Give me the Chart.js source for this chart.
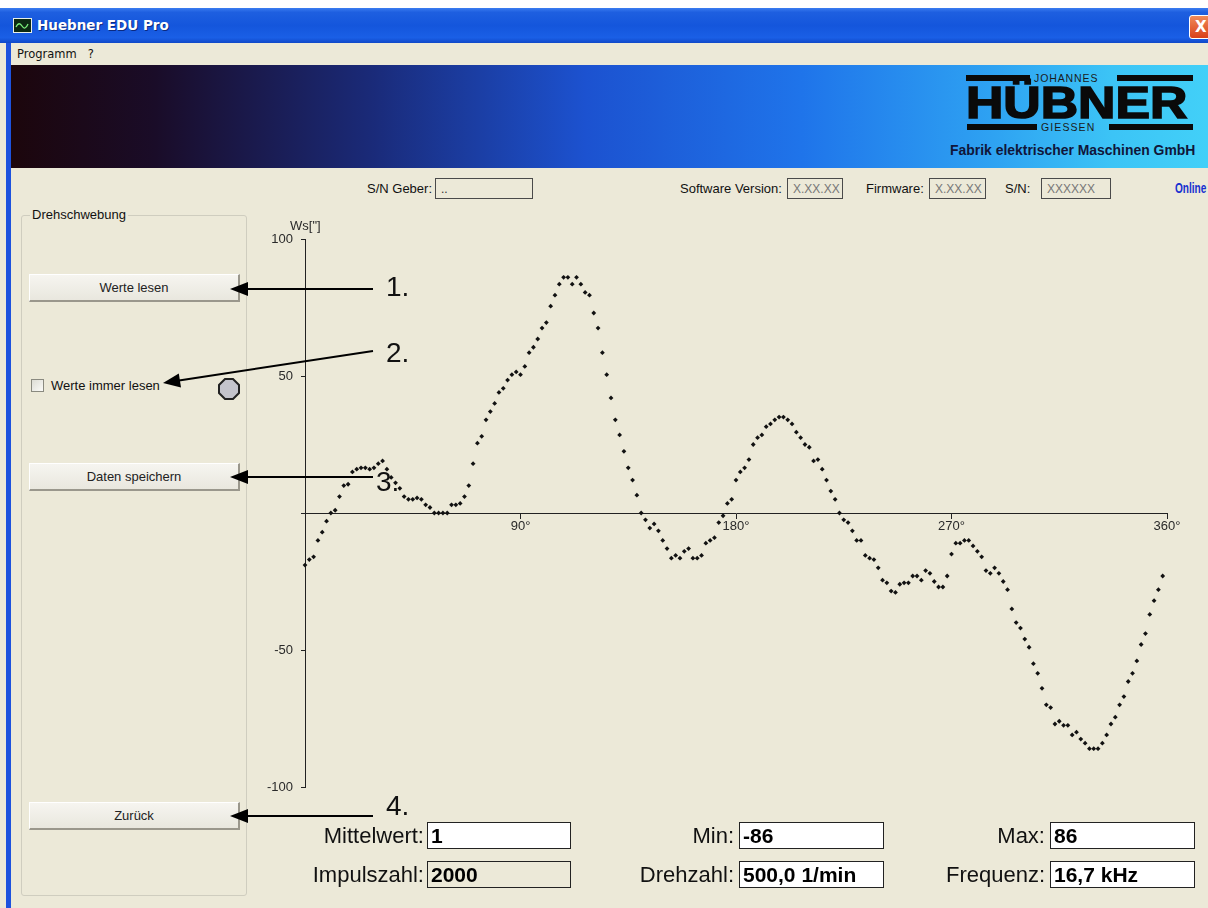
<!DOCTYPE html>
<html>
<head>
<meta charset="utf-8">
<title>Huebner EDU Pro</title>
<script src="https://cdn.jsdelivr.net/npm/chart.js@4.4.1/dist/chart.umd.min.js"></script>
<style>
  body { margin: 0; width: 1208px; height: 908px; position: relative; overflow: hidden;
         background: #ece9d8; font-family: "Liberation Sans", Arial, sans-serif; color: #111; }
  .abs { position: absolute; }
  .lbl { position: absolute; font-size: 13px; white-space: nowrap; }
  .snbox { position: absolute; height: 21px; border: 1px solid #4a4a4a; background: #ece9d8;
           font-size: 12px; line-height: 21px; color: #777; padding-left: 5px; box-sizing: border-box; }
  .btn { position: absolute; left: 29px; width: 211px; height: 28px; box-sizing: border-box;
         border-top: 1px solid #fff; border-left: 1px solid #fff;
         border-right: 2px solid #9a978c; border-bottom: 2px solid #9a978c;
         background: linear-gradient(to bottom, #f6f5f0, #e9e7de);
         font-size: 13px; text-align: center; line-height: 25px; color: #222; }
  .num { position: absolute; font-size: 28px; line-height: 28px; color: #111; }
  .flbl { position: absolute; font-size: 22px; line-height: 27px; text-align: right; width: 160px; color: #111; }
  .fbox { position: absolute; height: 27px; border: 1px solid #222; background: #fff; box-sizing: border-box;
          font-size: 21px; font-weight: bold; line-height: 25px; padding-left: 3px; color: #000; }
  .bar { position: absolute; background: #0a0a0a; height: 6px; }
</style>
</head>
<body>
<script>
// Drehschwebung Ws["] over one revolution, 200 samples (0° .. 358.2°)
const sampleStep = 1.8;
const wsValues = [
  -19, -17, -16, -10, -7, -3, 0, 1, 6, 10,
  10.5, 15, 16, 16.5, 16.5, 16, 16.5, 18, 19, 16,
  13, 11, 9, 6, 5, 5, 5.5, 5, 3, 2,
  0, 0, 0, 0, 3, 3, 3.5, 6, 10, 18,
  25.5, 28, 34, 37, 40, 44, 45.5, 48.5, 50.5, 51.5,
  50.5, 53.5, 58.5, 60.5, 63.5, 67.5, 69.5, 75.5, 79.5, 83.5,
  86, 86, 83.5, 86, 83.5, 80.5, 79.5, 73, 67.5, 58.5,
  50.5, 42, 34, 28.5, 22.5, 16.5, 12, 6.5, 0, -2.5,
  -5.5, -4, -6.5, -10, -13, -16.5, -15.5, -16.5, -14, -13,
  -16.5, -16.5, -15.5, -11, -10, -9, -3.5, -1, 3.5, 5,
  12, 15, 16.5, 19.5, 25, 27.5, 28.5, 31.5, 32.5, 34,
  35, 35, 34, 32.5, 29.5, 27.5, 25, 24, 19, 19.5,
  16, 12, 8, 5, 0, -2.5, -3.5, -6.5, -10, -10,
  -15.5, -16.5, -17, -20, -24.5, -25.5, -28.5, -29, -26, -25.5,
  -25.5, -23, -23, -24.5, -21, -22, -25, -27, -27, -23,
  -15, -11, -11, -10, -10, -12, -14, -16, -21, -22,
  -20, -22, -25, -28, -35, -40, -42, -46, -49, -55,
  -58.5, -64, -70, -71, -77, -76, -77.5, -77.5, -81, -80,
  -82.5, -84, -86, -86, -86, -84, -81, -77, -74.5, -70,
  -67, -61.5, -58.5, -54, -48, -44, -37, -32, -28, -23
];
const xTicks = [90, 180, 270, 360];
const xTickLabels = ['90°', '180°', '270°', '360°'];
const yTicks = [100, 50, 0, -50, -100];
const yTickLabels = ['100', '50', '', '-50', '-100'];
</script>

<!-- window chrome -->
<div class="abs" style="left:0;top:0;width:1208px;height:8px;background:#fff"></div>
<div class="abs" style="left:0;top:8px;width:1208px;height:35px;
     background:linear-gradient(to bottom,#3b7cf0 0%,#1e5fe0 12%,#1456dc 50%,#1a5fe6 85%,#0f48c8 100%)"></div>
<svg class="abs" style="left:13px;top:18px" width="19" height="15">
  <rect x="0.5" y="0.5" width="18" height="14" fill="#0c2a12" stroke="#e8f0e8"/>
  <path d="M3 9 Q6 3 9 8 T15 6" stroke="#7cf07c" stroke-width="1.3" fill="none"/>
</svg>
<div class="abs" style="left:37px;top:8px;height:35px;line-height:35px;color:#fff;font-family:'DejaVu Sans';font-weight:bold;font-size:13.5px;text-shadow:1px 1px #0b2a80">Huebner EDU Pro</div>
<div class="abs" style="left:1189px;top:15px;width:24px;height:22px;border-radius:3px;border:1px solid #fff;background:linear-gradient(#f08a5a,#d9401a);color:#fff;font-family:'DejaVu Sans';font-weight:bold;font-size:15px;line-height:22px;text-indent:5px">X</div>
<div class="abs" style="left:0;top:43px;width:1208px;height:22px;background:#ece9d8"></div>
<div class="abs" style="left:17px;top:43px;height:22px;line-height:22px;font-family:'DejaVu Sans';font-size:11.5px;color:#111">Programm&nbsp;&nbsp;&nbsp;?</div>
<div class="abs" style="left:6px;top:43px;width:5px;height:865px;background:#1d52de"></div>

<!-- banner -->
<div class="abs" style="left:11px;top:65px;width:1197px;height:103px;
     background:linear-gradient(to right,#1c060c 0%,#1a0c28 12%,#1a2a78 30%,#1c52d0 48%,#1f74ea 66%,#2ea2f2 82%,#3cc4f6 92%,#42d0f8 100%)"></div>
<div class="bar" style="left:966px;top:75px;width:64px"></div>
<div class="abs" style="left:1034px;top:72px;font-size:10.5px;letter-spacing:0.9px;color:#1a1a1a">JOHANNES</div>
<div class="bar" style="left:1117px;top:75px;width:76px"></div>
<div class="abs" style="left:966px;top:80px;font-size:45px;line-height:45px;font-weight:bold;color:#0a0a0a;-webkit-text-stroke:1.6px #0a0a0a;transform:scaleX(1.15);transform-origin:left top">HÜBNER</div>
<div class="bar" style="left:967px;top:124px;width:70px"></div>
<div class="abs" style="left:1041px;top:121px;font-size:10.5px;letter-spacing:1.1px;color:#1a1a1a">GIESSEN</div>
<div class="bar" style="left:1109px;top:124px;width:84px"></div>
<div class="abs" style="left:950px;top:142px;font-size:14px;font-weight:bold;color:#10163a;transform:scaleX(0.995);transform-origin:left top">Fabrik elektrischer Maschinen GmbH</div>

<!-- info row -->
<div class="lbl" style="left:367px;top:181px">S/N Geber:</div>
<div class="snbox" style="left:435px;top:178px;width:98px;color:#333">..</div>
<div class="lbl" style="left:680px;top:181px">Software Version:</div>
<div class="snbox" style="left:787px;top:178px;width:56px">X.XX.XX</div>
<div class="lbl" style="left:866px;top:181px">Firmware:</div>
<div class="snbox" style="left:929px;top:178px;width:57px">X.XX.XX</div>
<div class="lbl" style="left:1005px;top:181px">S/N:</div>
<div class="snbox" style="left:1041px;top:178px;width:70px">XXXXXX</div>
<div class="lbl" style="left:1175px;top:180px;color:#1530d0;font-weight:bold;font-size:14px;transform:scaleX(0.72);transform-origin:left top">Online</div>

<!-- left group -->
<div class="abs" style="left:21px;top:215px;width:226px;height:681px;border:1px solid #cfcdbf;border-radius:3px;box-sizing:border-box"></div>
<div class="lbl" style="left:30px;top:207px;background:#ece9d8;padding:0 2px">Drehschwebung</div>
<div class="btn" style="top:274px">Werte lesen</div>
<div class="abs" style="left:31px;top:379px;width:13px;height:13px;box-sizing:border-box;border:1px solid #8a8a80;background:linear-gradient(135deg,#dcdcd4,#fbfbf8)"></div>
<div class="lbl" style="left:51px;top:378px">Werte immer lesen</div>
<svg class="abs" style="left:217px;top:377px" width="24" height="24">
  <polygon points="8,2 16,2 22,8 22,16 16,22 8,22 2,16 2,8" fill="#c4c4cc" stroke="#222" stroke-width="2"/>
</svg>
<div class="btn" style="top:463px">Daten speichern</div>
<div class="btn" style="top:802px">Zurück</div>

<!-- chart -->
<div class="abs" style="left:250px;top:200px;width:940px;height:610px">
  <canvas id="wsChart" width="940" height="610" style="width:940px;height:610px"></canvas>
</div>
<div class="abs" style="left:290px;top:218px;font-size:13px;color:#2a2a2a">Ws["]</div>

<!-- annotation arrows -->
<svg class="abs" style="left:0;top:0;pointer-events:none" width="1208" height="908">
  <g stroke="#000" stroke-width="2">
    <line x1="246" y1="289" x2="373" y2="289"/>
    <line x1="179" y1="380.5" x2="373" y2="351"/>
    <line x1="246" y1="477" x2="373" y2="477"/>
    <line x1="246" y1="816" x2="373" y2="816"/>
  </g>
  <g fill="#000">
    <polygon points="230,289 248,282 248,296"/>
    <polygon points="163,383 181,387.4 178.8,373.5"/>
    <polygon points="230,477 248,470 248,484"/>
    <polygon points="230,816 248,809 248,823"/>
  </g>
</svg>
<div class="num" style="left:386px;top:273px">1.</div>
<div class="num" style="left:386px;top:339px">2.</div>
<div class="num" style="left:376px;top:468px">3.</div>
<div class="num" style="left:386px;top:792px">4.</div>

<!-- result fields -->
<div class="flbl" style="left:264px;top:822px">Mittelwert:</div>
<div class="fbox" style="left:427px;top:822px;width:144px">1</div>
<div class="flbl" style="left:574px;top:822px">Min:</div>
<div class="fbox" style="left:739px;top:822px;width:145px">-86</div>
<div class="flbl" style="left:885px;top:822px">Max:</div>
<div class="fbox" style="left:1050px;top:822px;width:145px">86</div>
<div class="flbl" style="left:264px;top:861px">Impulszahl:</div>
<div class="fbox" style="left:427px;top:861px;width:144px;background:#ece9d8">2000</div>
<div class="flbl" style="left:574px;top:861px">Drehzahl:</div>
<div class="fbox" style="left:739px;top:861px;width:145px">500,0 1/min</div>
<div class="flbl" style="left:885px;top:861px">Frequenz:</div>
<div class="fbox" style="left:1050px;top:861px;width:145px">16,7 kHz</div>

<script>
const points = wsValues.map((v, i) => ({ x: i * sampleStep, y: v }));
const tickFont = { family: 'Liberation Sans', size: 13 };

const ctx = document.getElementById('wsChart').getContext('2d');
const myChart = new Chart(ctx, {
  type: 'scatter',
  data: {
    datasets: [{
      data: points,
      pointStyle: 'rectRot',
      pointRadius: 2.4,
      pointBackgroundColor: '#111',
      pointBorderWidth: 0,
      showLine: false,
      clip: false
    }]
  },
  options: {
    responsive: false,
    animation: false,
    devicePixelRatio: 1,
    layout: { padding: { left: 0, right: 23, top: 39, bottom: 23 } },
    plugins: { legend: { display: false }, tooltip: { enabled: false } },
    scales: {
      x: {
        type: 'linear',
        min: 0,
        max: 360,
        position: { y: 0 },
        afterBuildTicks: (scale) => { scale.ticks = xTicks.map(v => ({ value: v })); },
        ticks: { callback: (v, i) => xTickLabels[i], font: tickFont, color: '#2a2a2a', padding: 1, maxRotation: 0, autoSkip: false },
        grid: { drawOnChartArea: false, drawTicks: true, tickLength: 5, color: '#222' },
        border: { display: true, color: '#222', width: 1 }
      },
      y: {
        min: -100,
        max: 100,
        position: 'left',
        afterFit: (scale) => { scale.width = 55; },
        afterBuildTicks: (scale) => { scale.ticks = yTicks.map(v => ({ value: v })); },
        ticks: { callback: (v, i) => yTickLabels[i], font: tickFont, color: '#2a2a2a', padding: 8, autoSkip: false },
        grid: { drawOnChartArea: false, drawTicks: true, tickLength: 4, color: '#222' },
        border: { display: true, color: '#222', width: 1 }
      }
    }
  }
});
</script>
</body>
</html>
